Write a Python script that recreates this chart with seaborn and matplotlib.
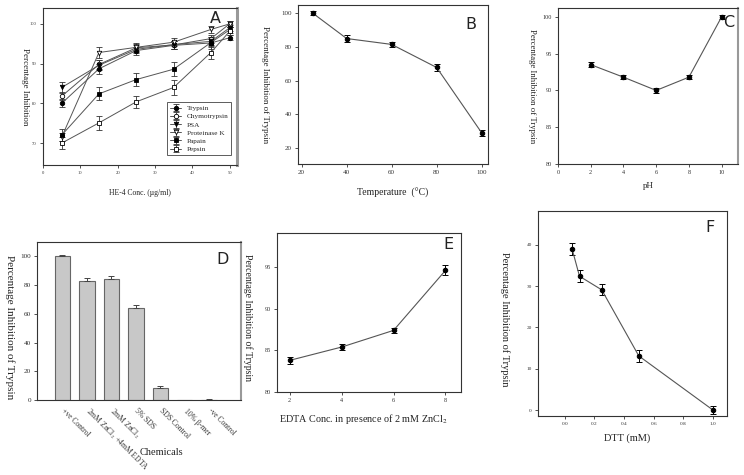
import numpy as np
import pandas as pd
import matplotlib
matplotlib.use("Agg")
import matplotlib.pyplot as plt
import seaborn as sns

# ---- data -------------------------------------------------------------
he4_conc = [5, 15, 25, 35, 45, 50]
enzymes = ["Trypsin", "Chymotrypsin", "PSA", "Proteinase K", "Papain", "Pepsin"]
enzyme_inhibition = {
    "Trypsin":      [80.0, 88.7, 93.3, 94.6, 95.2, 96.5],
    "Chymotrypsin": [81.8, 89.8, 94.0, 94.7, 96.3, 100.0],
    "PSA":          [84.0, 89.6, 93.6, 94.8, 95.6, 99.0],
    "Proteinase K": [71.5, 92.8, 94.1, 95.4, 98.6, 100.0],
    "Papain":       [72.0, 82.4, 86.0, 88.6, 95.3, 98.5],
    "Pepsin":       [70.0, 75.1, 80.4, 84.0, 92.8, 98.1],
}
enzyme_err = {
    "Trypsin":      [1.0, 1.2, 1.0, 1.0, 1.0, 0.6],
    "Chymotrypsin": [1.0, 1.2, 1.0, 1.0, 1.0, 0.8],
    "PSA":          [1.3, 1.2, 1.0, 1.0, 1.0, 0.8],
    "Proteinase K": [1.0, 1.5, 1.0, 1.0, 0.8, 0.8],
    "Papain":       [1.5, 1.6, 1.6, 1.8, 1.5, 0.8],
    "Pepsin":       [1.5, 1.7, 1.5, 2.0, 1.6, 1.0],
}
enzyme_markers = ["o", "o", "v", "v", "s", "s"]
enzyme_filled = [True, False, True, False, True, False]

temperature = [25, 40, 60, 80, 100]
temp_inhibition = [100.0, 85.0, 81.5, 67.8, 29.0]
temp_err = [1.2, 1.8, 1.5, 1.8, 1.8]

ph_values = [2, 4, 6, 8, 10]
ph_inhibition = [93.5, 91.8, 90.0, 91.8, 100.0]
ph_err = [0.3, 0.25, 0.35, 0.3, 0.3]

chemicals = ["+ve Control", "2mM ZnCl$_2$ +4mM EDTA", "2mM ZnCl$_2$", "5% SDS",
             "SDS Control", "10% β-mer", "-ve Control"]
chem_inhibition = [100.0, 83.0, 84.0, 64.0, 8.5, 0.0, 0.3]
chem_err = [1.0, 2.0, 2.5, 2.0, 1.5, 0.0, 0.4]

edta_conc = [2, 4, 6, 8]
edta_inhibition = [83.8, 85.4, 87.4, 94.6]
edta_err = [0.4, 0.4, 0.3, 0.6]

dtt_conc = [0.05, 0.1, 0.25, 0.5, 1.0]
dtt_inhibition = [39.0, 32.4, 29.1, 13.1, 0.0]
dtt_err = [1.5, 1.5, 1.3, 1.5, 1.0]

# ---- style ------------------------------------------------------------
sns.set_style("ticks")
plt.rcParams["font.family"] = ["Liberation Serif", "DejaVu Serif"]
plt.rcParams["mathtext.fontset"] = "stix"
plt.rcParams["axes.linewidth"] = 0.8

W, H = 744, 475
fig = plt.figure(figsize=(W / 100, H / 100), dpi=100)
fig.patch.set_facecolor("white")

LINE = "#555555"


def make_axes(l, t, r, b):
    return fig.add_axes([l / W, 1 - b / H, (r - l) / W, (b - t) / H])


def finish(ax, letter, lx, ly, ylabel, yl_xy, yfs, xlabel, xl_xy, xfs, fs_tick):
    for s in ax.spines.values():
        s.set_visible(True)
        s.set_color("#333333")
    ax.set_ylabel(ylabel, rotation=270, fontsize=yfs, color="#222222",
                  va="center", ha="center")
    ax.yaxis.set_label_coords(*yl_xy)
    ax.set_xlabel(xlabel, fontsize=xfs, color="#222222", va="center")
    ax.xaxis.set_label_coords(*xl_xy)
    ax.tick_params(labelsize=fs_tick, length=2.5, width=0.6, pad=2, colors="#333333")
    ax.text(lx, ly, letter, transform=ax.transAxes, fontsize=11.5,
            family="DejaVu Sans", ha="center", va="center", color="#222222")


def line_with_err(ax, x, y, err, ms=3.2):
    df = pd.DataFrame({"x": x, "y": y})
    sns.lineplot(data=df, x="x", y="y", ax=ax, color=LINE, lw=0.8,
                 marker="o", markersize=ms, markerfacecolor="black",
                 markeredgecolor="black", zorder=3)
    ax.errorbar(x, y, yerr=err, fmt="none", ecolor="black", elinewidth=0.7,
                capsize=2, capthick=0.7, zorder=2)


# ---- A ----------------------------------------------------------------
axA = make_axes(43, 8, 237, 165)
for name, mk, filled in zip(enzymes, enzyme_markers, enzyme_filled):
    axA.errorbar(he4_conc, enzyme_inhibition[name], yerr=enzyme_err[name],
                 color=LINE, lw=0.7, marker=mk, markersize=3.2,
                 mfc="black" if filled else "white", mec="black", mew=0.6,
                 ecolor="#333333", elinewidth=0.6, capsize=2, capthick=0.6,
                 label=name)
axA.set_xlim(0, 52)
axA.set_ylim(64.5, 104)
axA.set_xticks([0, 10, 20, 30, 40, 50])
axA.set_yticks([70, 80, 90, 100])
finish(axA, "A", 0.89, 0.93, "Percentage Inhibition", (-0.093, 0.5), 6.5,
       "HE-4 Conc. (µg/ml)", (0.5, -0.18), 5.5, 3.3)
axA.spines["right"].set_color("#999999")
axA.spines["right"].set_linewidth(2.2)
leg = axA.legend(loc="lower right", fontsize=5.2, frameon=True, fancybox=False,
                 handlelength=1.5, borderpad=0.4, labelspacing=0.3,
                 bbox_to_anchor=(0.99, 0.04))
leg.get_frame().set_edgecolor("#333333")
leg.get_frame().set_linewidth(0.7)

# ---- B ----------------------------------------------------------------
axB = make_axes(298, 5, 488, 164)
line_with_err(axB, temperature, temp_inhibition, temp_err)
axB.set_xlim(18.4, 102.8)
axB.set_ylim(10.5, 104.9)
axB.set_xticks([20, 40, 60, 80, 100])
axB.set_yticks([20, 40, 60, 80, 100])
finish(axB, "B", 0.91, 0.88, "Percentage Inhibition of Trypsin", (-0.174, 0.5), 6.5,
       "Temperature  (°C)", (0.5, -0.18), 7, 5)

# ---- C ----------------------------------------------------------------
axC = make_axes(558, 8, 738, 164)
line_with_err(axC, ph_values, ph_inhibition, ph_err)
axC.set_xlim(0, 11)
axC.set_ylim(80, 101.2)
axC.set_xticks([0, 2, 4, 6, 8, 10])
axC.set_yticks([80, 85, 90, 95, 100])
finish(axC, "C", 0.95, 0.91, "Percentage Inhibition of Trypsin", (-0.144, 0.5), 6.3,
       "pH", (0.5, -0.14), 6.5, 4.5)
axC.spines["right"].set_color("#999999")
axC.spines["right"].set_linewidth(1.5)

# ---- D ----------------------------------------------------------------
axD = make_axes(37, 242, 241, 400)
chem_df = pd.DataFrame({"chem": chemicals, "val": chem_inhibition})
sns.barplot(data=chem_df, x="chem", y="val", ax=axD, color="#c8c8c8",
            edgecolor="#666666", linewidth=0.8, width=0.63, errorbar=None)
axD.errorbar(range(len(chemicals)), chem_inhibition,
             yerr=[np.zeros(len(chemicals)), chem_err], fmt="none",
             ecolor="#444444", elinewidth=0.7, capsize=2.5, capthick=0.7)
axD.set_xlim(-1.04, 7.3)
axD.set_ylim(0, 110)
axD.set_yticks([0, 20, 40, 60, 80, 100])
finish(axD, "D", 0.91, 0.89, "Percentage Inhibition of Trypsin", (-0.135, 0.46), 8,
       "Chemicals", (0.61, -0.33), 7.5, 5.2)
axD.set_xticks(range(len(chemicals)))
axD.set_xticklabels(chemicals, rotation=-45, ha="left", va="center",
                    rotation_mode="anchor", fontsize=5.5)
axD.tick_params(axis="x", length=0, pad=7)
axD.spines["right"].set_color("#999999")
axD.spines["right"].set_linewidth(1.5)

# ---- E ----------------------------------------------------------------
axE = make_axes(277, 233, 461, 392)
line_with_err(axE, edta_conc, edta_inhibition, edta_err)
axE.set_xlim(1.51, 8.6)
axE.set_ylim(80, 99.1)
axE.set_xticks([2, 4, 6, 8])
axE.set_yticks([80, 85, 90, 95])
finish(axE, "E", 0.93, 0.93, "Percentage Inhibition of Trypsin", (-0.158, 0.47), 7,
       "EDTA Conc. in presence of 2 mM ZnCl$_2$", (0.47, -0.17), 7.3, 4.5)

# ---- F ----------------------------------------------------------------
axF = make_axes(538, 211, 727, 416)
line_with_err(axF, dtt_conc, dtt_inhibition, dtt_err)
axF.set_xlim(-0.18, 1.095)
axF.set_ylim(-1.45, 48.2)
axF.set_xticks([0.0, 0.2, 0.4, 0.6, 0.8, 1.0])
axF.set_yticks([0, 10, 20, 30, 40])
finish(axF, "F", 0.91, 0.92, "Percentage Inhibition of Trypsin", (-0.175, 0.47), 7.5,
       "DTT (mM)", (0.47, -0.11), 7.5, 3.8)

fig.savefig("out.png", dpi=100, facecolor="white")
